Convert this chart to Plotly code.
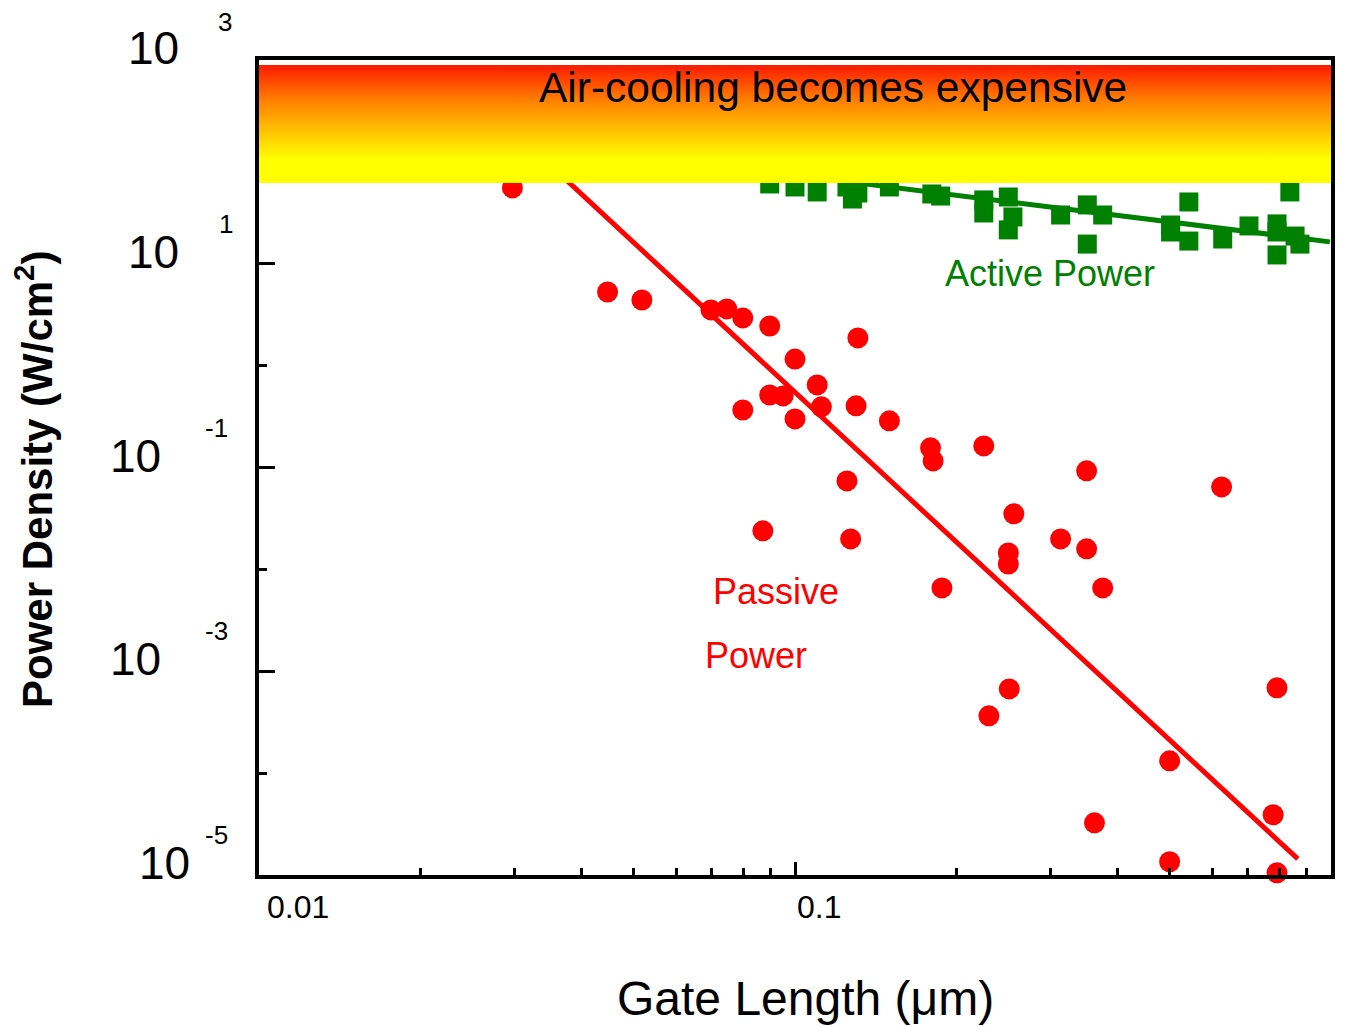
import math
import plotly.graph_objects as go

# ---------------- data ----------------
passive_x = [0.0297, 0.0447, 0.0518, 0.0697, 0.0746, 0.0799, 0.0897, 0.100, 0.131, 0.110,
             0.0897, 0.0950, 0.0799, 0.100, 0.112, 0.130, 0.150, 0.179, 0.181, 0.225,
             0.125, 0.350, 0.625, 0.256, 0.0871, 0.127, 0.313, 0.250, 0.250, 0.350,
             0.188, 0.375, 0.251, 0.793, 0.230, 0.500, 0.362, 0.780, 0.500, 0.793]
passive_y = [55.5, 5.28, 4.41, 3.52, 3.60, 2.94, 2.45, 1.16, 1.87, 0.647,
             0.515, 0.504, 0.367, 0.300, 0.394, 0.403, 0.287, 0.156, 0.116, 0.163,
             0.0739, 0.0927, 0.0645, 0.0351, 0.0239, 0.0199, 0.0199, 0.0145, 0.0113, 0.0159,
             0.00658, 0.00658, 6.71e-4, 6.87e-4, 3.65e-4, 1.32e-4, 3.25e-5, 3.90e-5, 1.35e-5, 1.05e-5]

active_x = [0.0897, 0.100, 0.110, 0.125, 0.128, 0.131, 0.150, 0.180, 0.187, 0.225,
            0.225, 0.250, 0.255, 0.250, 0.313, 0.351, 0.375, 0.351, 0.543, 0.502,
            0.502, 0.543, 0.628, 0.703, 0.793, 0.793, 0.838, 0.875, 0.857, 0.793]
active_y = [60.7, 56.7, 50.7, 56.7, 43.2, 49.5, 56.7, 48.4, 46.2, 42.3,
            31.5, 45.2, 28.8, 21.5, 30.1, 37.8, 30.1, 15.6, 40.4, 24.0,
            20.5, 16.7, 17.5, 23.5, 24.6, 20.5, 50.7, 15.6, 18.7, 12.2]

passive_fit_x = [0.0272, 0.867]
passive_fit_y = [316.0, 1.44e-5]
active_fit_x = [0.05, 0.995]
active_fit_y = [117.0, 16.4]

band_x = [0.01, 1.0]
band_y = [62.1, 893.0]   # air-cooling limit region (bottom, top)

x_range = [0.01, 1.0]
y_range = [1e-5, 1e3]
x_major = [0.01, 0.1, 1]
x_minor = [0.02, 0.03, 0.04, 0.05, 0.06, 0.07, 0.08, 0.09,
           0.2, 0.3, 0.4, 0.5, 0.6, 0.7, 0.8, 0.9]
x_tick_labels = ["0.01", "0.1", "1"]
y_major_exp = [3, 1, -1, -3, -5]
y_minor_exp = [0, -2, -4]

# ---------------- style ----------------
FONT = "Arial, Liberation Sans, Helvetica, sans-serif"
RED = "#FF0000"
GREEN = "#008000"
OFF = 8                       # page body margin
VW, VH = 1353, 1027           # viewport
PL, PT, PW, PH = 259, 60, 1072, 815   # plot area in viewport pixels
L, T = PL - OFF, PT - OFF
W, H = VW - OFF, VH - OFF
R = W - L - PW
B = H - T - PH


def paper(px, py):
    return (px - PL) / PW, (PT + PH - py) / PH


fig = go.Figure()

fig.add_trace(go.Scatter(
    x=active_fit_x, y=active_fit_y, mode="lines",
    line=dict(color=GREEN, width=5), hoverinfo="skip", showlegend=False))
fig.add_trace(go.Scatter(
    x=active_x, y=active_y, mode="markers",
    marker=dict(symbol="square", size=19, color=GREEN, line=dict(width=0)),
    cliponaxis=False, showlegend=False))
fig.add_trace(go.Scatter(
    x=passive_fit_x, y=passive_fit_y, mode="lines",
    line=dict(color=RED, width=5), hoverinfo="skip", showlegend=False))
fig.add_trace(go.Scatter(
    x=passive_x, y=passive_y, mode="markers",
    marker=dict(symbol="circle", size=21, color=RED, line=dict(width=0)),
    cliponaxis=False, showlegend=False))

# gradient band (drawn above the data)
fig.add_trace(go.Scatter(
    x=[band_x[0], band_x[1], band_x[1], band_x[0], band_x[0]],
    y=[band_y[1], band_y[1], band_y[0], band_y[0], band_y[1]],
    mode="lines", line=dict(width=0, color="rgba(0,0,0,0)"),
    fill="toself",
    fillgradient=dict(type="vertical",
                      colorscale=[[0, "#FFFF00"], [0.2, "#FFFF00"], [0.42, "#FFC800"],
                                  [0.7, "#FF8000"], [1, "#FF1A00"]]),
    hoverinfo="skip", showlegend=False))

ann = []
x0, y0 = paper(833, 87)
ann.append(dict(text="Air-cooling becomes expensive", x=x0, y=y0, xref="paper", yref="paper",
                showarrow=False, font=dict(size=42.5, color="black", family=FONT),
                xanchor="center", yanchor="middle"))
x0, y0 = paper(1050, 273)
ann.append(dict(text="Active Power", x=x0, y=y0, xref="paper", yref="paper", showarrow=False,
                font=dict(size=36, color=GREEN, family=FONT), xanchor="center", yanchor="middle"))
x0, y0 = paper(776, 591)
ann.append(dict(text="Passive", x=x0, y=y0, xref="paper", yref="paper", showarrow=False,
                font=dict(size=36, color=RED, family=FONT), xanchor="center", yanchor="middle"))
x0, y0 = paper(756, 655)
ann.append(dict(text="Power", x=x0, y=y0, xref="paper", yref="paper", showarrow=False,
                font=dict(size=36, color=RED, family=FONT), xanchor="center", yanchor="middle"))
# axis titles
x0, y0 = paper(805, 998)
ann.append(dict(text="Gate Length (\u03bcm)", x=x0, y=y0, xref="paper", yref="paper",
                showarrow=False, font=dict(size=48, color="black", family=FONT),
                xanchor="center", yanchor="middle"))
x0, y0 = paper(34, 480)
ann.append(dict(text="<b>Power Density (W/cm<sup>2</sup>)</b>", x=x0, y=y0, xref="paper",
                yref="paper", showarrow=False, textangle=-90,
                font=dict(size=42, color="black", family=FONT),
                xanchor="center", yanchor="middle"))

# y tick labels: "10" with exponent
ten_right = [181, 181, 163, 163, 192]
exp_left = [216, 217, 203, 203, 203]
exp_shift = [38, 40, 40, 40, 40]
for e, tr, el, es in zip(y_major_exp, ten_right, exp_left, exp_shift):
    ann.append(dict(text="10", x=0, xshift=tr - PL, y=e, xref="paper", yref="y",
                    yshift=12, showarrow=False, xanchor="right", yanchor="middle",
                    font=dict(size=46, color="black", family=FONT)))
    ann.append(dict(text=str(e), x=0, xshift=el - PL, y=e, xref="paper", yref="y",
                    yshift=es, showarrow=False, xanchor="left", yanchor="middle",
                    font=dict(size=26, color="black", family=FONT)))

# x tick labels
x_lab_shift = [6, 0, 15]
for v, lab, s in zip(x_major, x_tick_labels, x_lab_shift):
    ann.append(dict(text=lab, x=math.log10(v), xshift=s, y=0, yref="paper", xref="x",
                    yshift=-32, showarrow=False, xanchor="left", yanchor="middle",
                    font=dict(size=32, color="black", family=FONT)))

fig.update_layout(
    width=W, height=H,
    margin=dict(l=L, r=R, t=T, b=B, pad=0),
    paper_bgcolor="white", plot_bgcolor="white",
    font=dict(family=FONT, color="black"),
    annotations=ann,
    showlegend=False,
    xaxis=dict(type="log", range=[math.log10(x_range[0]), math.log10(x_range[1])],
               showgrid=False, zeroline=False, showline=True, linecolor="black",
               linewidth=4, mirror=True, ticks="inside", tickvals=x_major, ticklen=13,
               tickwidth=3, tickcolor="black", showticklabels=False,
               minor=dict(tickvals=x_minor, ticks="inside", ticklen=7, tickwidth=3,
                          tickcolor="black", showgrid=False)),
    yaxis=dict(type="log", range=[math.log10(y_range[0]), math.log10(y_range[1])],
               showgrid=False, zeroline=False, showline=True, linecolor="black",
               linewidth=4, mirror=True, ticks="inside",
               tickvals=[10 ** e for e in y_major_exp], ticklen=16, tickwidth=3,
               tickcolor="black", showticklabels=False,
               minor=dict(tickvals=[10 ** e for e in y_minor_exp], ticks="inside",
                          ticklen=8, tickwidth=3, tickcolor="black", showgrid=False)),
)

fig.write_html("out.html")
